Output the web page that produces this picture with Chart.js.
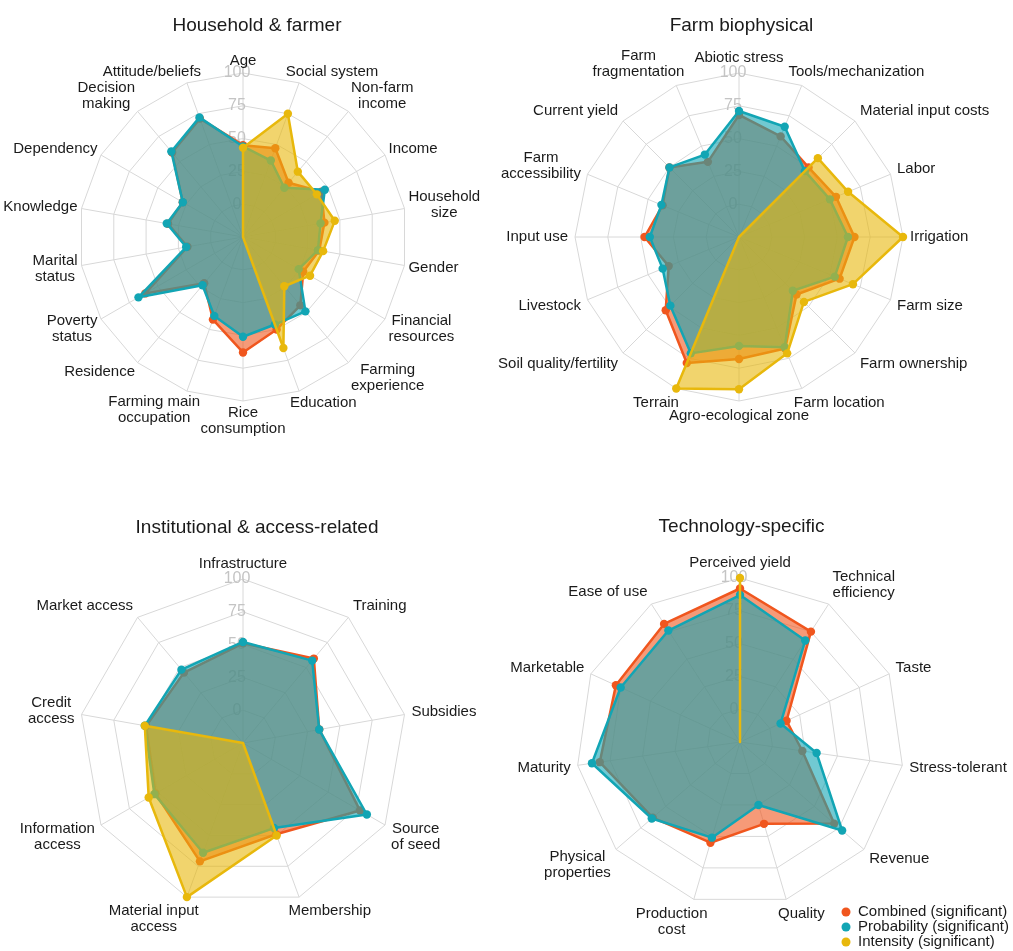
<!DOCTYPE html>
<html>
<head>
<meta charset="utf-8">
<title>Determinants radar charts</title>
<script src="https://cdn.jsdelivr.net/npm/chart.js@4/dist/chart.umd.min.js"></script>
<style>
  html, body { margin: 0; padding: 0; background: #ffffff; }
  body { width: 1013px; height: 951px; position: relative; overflow: hidden; }
  canvas { position: absolute; }
</style>
</head>
<body>
<canvas id="hh" width="514" height="475" style="left:0;top:0"></canvas>
<canvas id="fb" width="543" height="475" style="left:470px;top:0"></canvas>
<canvas id="ia" width="514" height="476" style="left:0;top:475px"></canvas>
<canvas id="ts" width="543" height="476" style="left:470px;top:475px"></canvas>
<script>
// ---- Household & farmer ----
const hhLabels = ['Age', 'Social system', ['Non-farm', 'income'], 'Income', ['Household', 'size'], 'Gender',
  ['Financial', 'resources'], ['Farming', 'experience'], 'Education', ['Rice', 'consumption'],
  ['Farming main', 'occupation'], 'Residence', ['Poverty', 'status'], ['Marital', 'status'],
  'Knowledge', 'Dependency', ['Decision', 'making'], 'Attitude/beliefs'];
const hhCombined    = [45, 47, 29, 44, 38, 34, 28, 43, 50, 63, 42, 21, 61, 18, 33, 28, 59, 71];
const hhProbability = [44, 37, 24, 47, 35, 33, 24, 49, 46, 51, 39, 23, 67, 19, 34, 28, 60, 72];
const hhIntensity   = [43, 75, 40, 40, 46, 37, 34, 24, 65, -25, -25, -25, -25, -25, -25, -25, -25, -25];

// ---- Farm biophysical ----
const fbLabels = ['Abiotic stress', 'Tools/mechanization', 'Material input costs', 'Labor', 'Irrigation',
  'Farm size', 'Farm ownership', 'Farm location', 'Agro-ecological zone', 'Terrain',
  'Soil quality/fertility', 'Livestock', 'Input use', ['Farm', 'accessibility'], 'Current yield',
  ['Farm', 'fragmentation']];
const fbCombined    = [68, 58, 50, 55, 63, 58, 37, 67, 68, 79, 54, 33, 47, 38, 50, 37];
const fbProbability = [71, 66, 46, 50, 58, 54, 33, 66, 58, 71, 49, 38, 43, 39, 50, 43];
const fbIntensity   = [-25, -25, 60, 65, 100, 69, 45, 71, 91, 100, -25, -25, -25, -25, -25, -25];

// ---- Institutional & access-related ----
const iaLabels = ['Infrastructure', 'Training', 'Subsidies', ['Source', 'of seed'], 'Membership',
  ['Material input', 'access'], ['Information', 'access'], ['Credit', 'access'], 'Market access'];
const iaCombined    = [51, 59, 34, 78, 49, 71, 52, 50, 45];
const iaProbability = [52, 57, 34, 84, 44, 64, 53, 51, 48];
const iaIntensity   = [-25, -25, -25, -25, 50, 100, 58, 51, -25];

// ---- Technology-specific ----
const tsLabels = ['Perceived yield', ['Technical', 'efficiency'], 'Taste', 'Stress-tolerant', 'Revenue',
  'Quality', ['Production', 'cost'], ['Physical', 'properties'], 'Maturity', 'Marketable', 'Ease of use'];
const tsCombined    = [92, 75, 14, 23, 70, 40, 55, 63, 83, 79, 82];
const tsProbability = [87, 67, 9, 34, 78, 25, 51, 64, 89, 75, 76];
const tsIntensity   = [100, -25, -25, -25, -25, -25, -25, -25, -25, -25, -25];

// shared radial axis: -25 sits at the centre, labelled rings 0..100
const axisMin = -25;
const axisMax = 100;
const axisStep = 25;

const seriesNames = ['Combined (significant)', 'Probability (significant)', 'Intensity (significant)'];

const ORANGE = '240,86,30';
const TEAL = '18,165,180';
const YELLOW = '232,184,12';
const FONT = '"Liberation Sans", Arial, Helvetica, sans-serif';

// titles, ring numbers, spoke labels and the legend
const radarDecor = {
  id: 'radarDecor',
  beforeDatasetsDraw(chart) {
    const s = chart.scales.r;
    const ctx = chart.ctx;
    ctx.save();
    ctx.font = '16px ' + FONT;
    ctx.fillStyle = '#c4c4c4';
    ctx.textAlign = 'center';
    ctx.textBaseline = 'middle';
    s.ticks.forEach(t => {
      if (t.value < 0) return;
      const r = s.getDistanceFromCenterForValue(t.value);
      ctx.fillText(String(t.value), s.xCenter - 6, s.yCenter - r);
    });
    ctx.restore();
  },
  afterDraw(chart, args, opts) {
    const s = chart.scales.r;
    const ctx = chart.ctx;
    ctx.save();
    ctx.fillStyle = '#1a1a1a';
    ctx.font = '19px ' + FONT;
    ctx.textAlign = 'center';
    ctx.textBaseline = 'alphabetic';
    ctx.fillText(opts.title, chart.width / 2, opts.titleBaseline);

    ctx.font = '15px ' + FONT;
    ctx.textBaseline = 'middle';
    const lh = 16;
    chart.data.labels.forEach((lab, i) => {
      const lines = Array.isArray(lab) ? lab : [lab];
      const p = s.getPointPosition(i, s.drawingArea + opts.labelPad);
      const th = p.angle + Math.PI / 2;
      const sin = Math.sin(th), cos = Math.cos(th);
      const w = Math.max(...lines.map(l => ctx.measureText(l).width));
      const h = lines.length * lh;
      const hj = 0.5 * (1 - Math.max(-1, Math.min(1, 2 * sin)));
      const cx = p.x - hj * w + w / 2;
      const cy = p.y - (h / 2) * cos;
      ctx.textAlign = 'center';
      lines.forEach((l, k) => ctx.fillText(l, cx, cy - h / 2 + lh * (k + 0.5)));
    });

    if (opts.legend) {
      ctx.textAlign = 'left';
      chart.data.datasets.forEach((ds, k) => {
        const y = opts.legend.y + k * 15;
        ctx.fillStyle = ds.borderColor;
        ctx.beginPath();
        ctx.arc(opts.legend.x, y, 4.5, 0, Math.PI * 2);
        ctx.fill();
        ctx.fillStyle = '#1a1a1a';
        ctx.fillText(ds.label, opts.legend.x + 12, y);
      });
    }
    ctx.restore();
  }
};

function series(label, data, rgb, order) {
  return {
    label, data, order,
    borderColor: 'rgb(' + rgb + ')',
    backgroundColor: 'rgba(' + rgb + ',0.6)',
    borderWidth: 2.5,
    borderJoinStyle: 'round',
    fill: 'start',
    tension: 0,
    pointBackgroundColor: 'rgb(' + rgb + ')',
    pointBorderColor: 'rgb(' + rgb + ')',
    pointBorderWidth: 0,
    pointRadius: ctx => (ctx.raw <= axisMin ? 0 : 4.2),
    pointHoverRadius: 0
  };
}

function buildRadar(id, labels, combined, probability, intensity, decor, padding) {
  return new Chart(document.getElementById(id), {
    type: 'radar',
    data: {
      labels,
      datasets: [
        series(seriesNames[0], combined, ORANGE, 3),
        series(seriesNames[1], probability, TEAL, 2),
        series(seriesNames[2], intensity, YELLOW, 1)
      ]
    },
    options: {
      responsive: false,
      animation: false,
      events: [],
      layout: { padding },
      plugins: {
        legend: { display: false },
        tooltip: { enabled: false },
        radarDecor: decor
      },
      scales: {
        r: {
          min: axisMin,
          max: axisMax,
          ticks: { display: false, stepSize: axisStep },
          pointLabels: { display: false },
          grid: { color: '#d8d8d8', lineWidth: 1 },
          angleLines: { color: '#d8d8d8', lineWidth: 1 }
        }
      }
    },
    plugins: [radarDecor]
  });
}

buildRadar('hh', hhLabels, hhCombined, hhProbability, hhIntensity,
  { title: 'Household & farmer', titleBaseline: 31, labelPad: 4 },
  { left: 79, right: 107, top: 73, bottom: 74 });

buildRadar('fb', fbLabels, fbCombined, fbProbability, fbIntensity,
  { title: 'Farm biophysical', titleBaseline: 31, labelPad: 7 },
  { left: 105, right: 110, top: 73, bottom: 74 });

buildRadar('ia', iaLabels, iaCombined, iaProbability, iaIntensity,
  { title: 'Institutional & access-related', titleBaseline: 58, labelPad: 7 },
  { left: 79, right: 107, top: 104, bottom: 44 });

buildRadar('ts', tsLabels, tsCombined, tsProbability, tsIntensity,
  { title: 'Technology-specific', titleBaseline: 57, labelPad: 7, legend: { x: 376, y: 437 } },
  { left: 106, right: 109, top: 103, bottom: 45 });
</script>
</body>
</html>
